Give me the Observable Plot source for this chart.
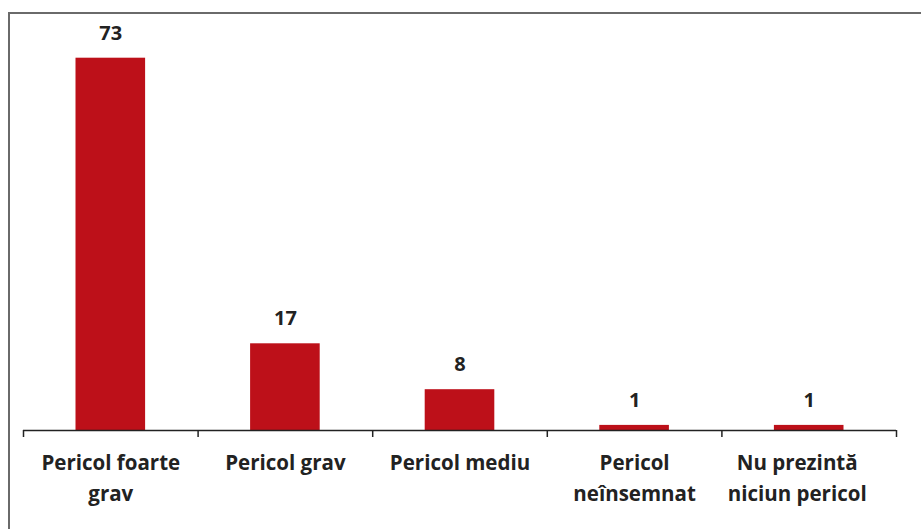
<!DOCTYPE html>
<html>
<head>
<meta charset="utf-8">
<script src="https://cdn.jsdelivr.net/npm/d3@7"></script>
<script src="https://cdn.jsdelivr.net/npm/@observablehq/plot@0.6"></script>
<style>
  html, body { margin: 0; padding: 0; background: #fff; }
  #wrap { position: relative; width: 921px; height: 529px; overflow: hidden; }
  #frame { position: absolute; left: 8px; top: 12px; right: -5px; bottom: -5px;
           border-left: 2px solid #6a6a6a; border-top: 2px solid #6a6a6a; pointer-events: none; }
  #chart { position: absolute; left: 0; top: 0; }
</style>
</head>
<body>
<div id="wrap"><div id="chart"></div><div id="frame"></div></div>
<script>
const categories = ["Pericol foarte\ngrav", "Pericol grav", "Pericol mediu", "Pericol\nneînsemnat", "Nu prezintă\nniciun pericol"];
const values = [73, 17, 8, 1, 1];
const boundaries = [0, 1, 2, 3, 4, 5];

const data = categories.map((c, i) => ({cat: c, i, value: values[i]}));
const font = "'Open Sans', Lato, sans-serif";
const labelOpts = {x: d => d.i + 0.5, y: 0, text: "cat", dy: 18, lineAnchor: "top", lineHeight: 1.5,
  fontSize: 20.5, fontWeight: "bold", fill: "#222"};

const chart = Plot.plot({
  width: 921,
  height: 529,
  marginLeft: 23,
  marginRight: 25,
  marginTop: 22,
  marginBottom: 99,
  style: {fontFamily: font, background: "transparent"},
  x: {domain: [0, 5], axis: null},
  y: {domain: [0, 80], axis: null},
  marks: [
    Plot.rectY(data, {x1: d => d.i, x2: d => d.i + 1, y: "value", fill: "#BD1019", insetLeft: 52.5, insetRight: 52.5}),
    Plot.ruleY([0], {stroke: "#222", strokeWidth: 1.5}),
    Plot.ruleX(boundaries, {x: d => d, y1: 0, y2: 0, insetTop: 0, insetBottom: -7, stroke: "#222", strokeWidth: 1.5}),
    Plot.text(data, {x: d => d.i + 0.5, y: "value", text: d => String(d.value), dy: -25, lineAnchor: "middle",
      fontSize: 20, fontWeight: "bold", fill: "#222"}),
    Plot.text(data.slice(0, 4), labelOpts),
    Plot.text(data.slice(4), {...labelOpts, dx: -12})
  ]
});
document.getElementById("chart").appendChild(chart);
</script>
</body>
</html>
